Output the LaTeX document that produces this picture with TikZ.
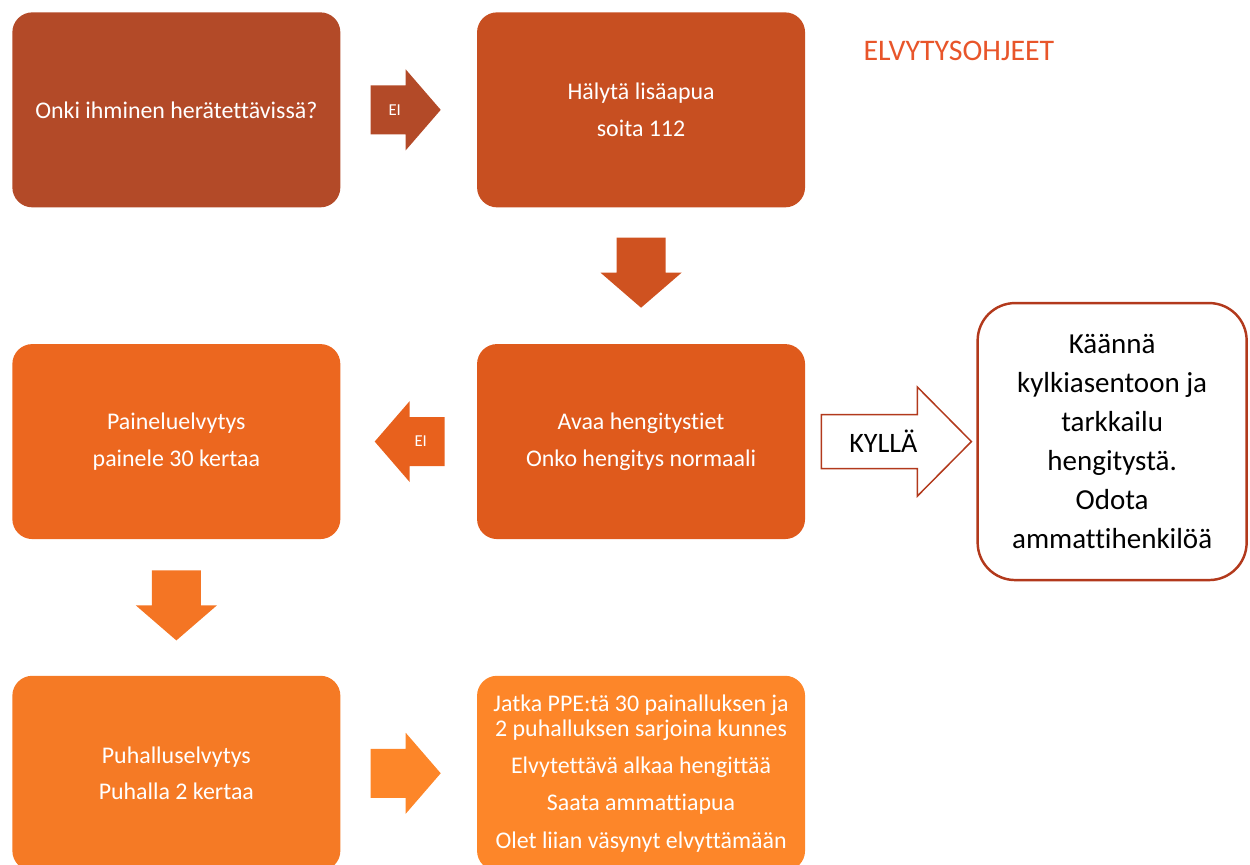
\documentclass[tikz,border=0pt]{standalone}
\usepackage{fontspec}
\setmainfont{Carlito}[Ligatures=NoCommon]
\usetikzlibrary{positioning}
\definecolor{c1}{HTML}{B34A28}
\definecolor{c2}{HTML}{C74F21}
\definecolor{c3}{HTML}{CF5220}
\definecolor{c4}{HTML}{DF5A1C}
\definecolor{c5}{HTML}{E8611D}
\definecolor{c6}{HTML}{EC671F}
\definecolor{c7}{HTML}{F47524}
\definecolor{c8}{HTML}{F57A25}
\definecolor{c9}{HTML}{FD8629}
\definecolor{dred}{HTML}{B2391C}
\definecolor{ttl}{HTML}{E8552A}

\begin{document}
\begin{tikzpicture}[node distance=2.72cm,
    box/.style={rounded corners=0.4cm, minimum width=6.56cm, minimum height=3.9cm, inner sep=0pt, align=center, text=white, font=\fontsize{13.6}{21}\selectfont},
    barrow/.pic={\fill (0,-0.49) -- (0.7,-0.49) -- (0.7,-0.81) -- (1.4,0) -- (0.7,0.81) -- (0.7,0.49) -- (0,0.49) -- cycle;},
    bigarrow/.pic={\filldraw (0,-0.54) -- (1.92,-0.54) -- (1.92,-1.09) -- (3,0) -- (1.92,1.09) -- (1.92,0.54) -- (0,0.54) -- cycle;},
    small/.style={text=white, font=\fontsize{9.5}{11}\selectfont}]
    \useasboundingbox (0,0) rectangle (25,-17.28);

    \node[box, fill=c1, anchor=north west] (1) at (0.24,-0.24) {Onki ihminen herätettävissä?};
    \node[box, fill=c2] (2) [right=of 1] {Hälytä lisäapua\\soita 112};
    \node[box, fill=c6] (3) [below=of 1] {Paineluelvytys\\painele 30 kertaa};
    \node[box, fill=c4] (4) [below=of 2] {Avaa hengitystiet\\Onko hengitys normaali};
    \node[box, fill=c8] (5) [below=of 3] {Puhalluselvytys\\Puhalla 2 kertaa};
    \node[box, fill=c9, font=\fontsize{13.6}{14.2}\selectfont] (6) [below=of 4]
        {Jatka PPE:tä 30 painalluksen ja\\2 puhalluksen sarjoina kunnes\\[7pt]Elvytettävä alkaa hengittää\\[7pt]Saata ammattiapua\\[7pt]Olet liian väsynyt elvyttämään};

    \pic[fill=c1] at ([xshift=0.6cm]1.east) {barrow};
    \node[small] (e1) at ([xshift=1.08cm]1.east) {EI};
    \pic[fill=c3, rotate=-90] at ([yshift=-0.6cm]2.south) {barrow};
    \pic[fill=c5, rotate=180] at ([xshift=-0.64cm]4.west) {barrow};
    \node[small] (e2) at ([xshift=-1.12cm]4.west) {EI};
    \pic[fill=c7, rotate=-90] at ([yshift=-0.62cm]3.south) {barrow};
    \pic[fill=c9] at ([xshift=0.6cm]5.east) {barrow};

    \pic[draw=dred, fill=white, line width=0.85pt] at ([xshift=0.32cm]4.east) {bigarrow};
    \node[font=\fontsize{16}{18}\selectfont] (k) at ([xshift=1.56cm]4.east) {KYLLÄ};
    \node[rounded corners=0.75cm, draw=dred, line width=1.4pt, minimum width=5.38cm, minimum height=5.54cm, align=center, font=\fontsize{16.5}{22.2}\selectfont] (7) [right=3.42cm of 4]
        {Käännä\\kylkiasentoon ja\\tarkkailu\\hengitystä.\\Odota\\ammattihenkilöä};

    \node[text=ttl, font=\fontsize{17}{20}\selectfont] (t) at (19.18,-1.02) {ELVYTYSOHJEET};
\end{tikzpicture}
\end{document}
